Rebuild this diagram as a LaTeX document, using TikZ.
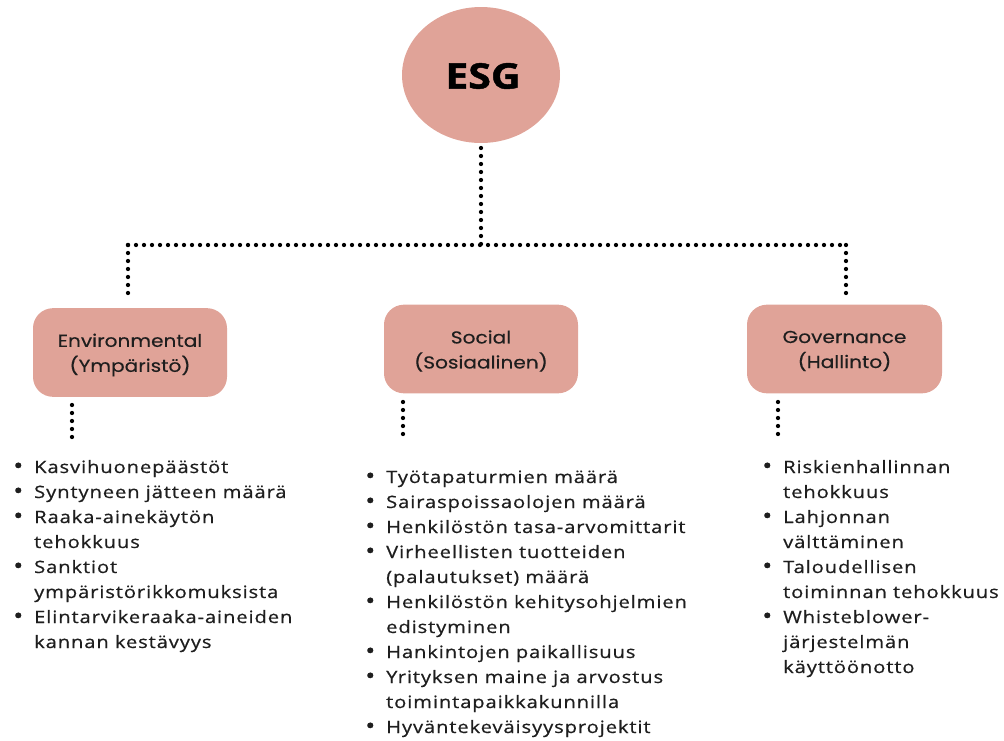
\documentclass[tikz,border=0pt]{standalone}
\usepackage{fontspec}
\usepackage{graphicx}
\usetikzlibrary{shapes.geometric}
\setmainfont{Open Sans}
\newfontfamily\listfont[LetterSpace=4.5,FakeBold=0.6]{Open Sans}
\newfontfamily\boxfont[FakeBold=0.3]{Poppins}
\newfontfamily\esgfont[FakeBold=1.2]{Open Sans Bold}
\definecolor{esgpink}{HTML}{E0A398}
\definecolor{txt}{HTML}{1E1E1E}
\newcommand{\hs}[1]{\scalebox{1.16}[1]{#1}}
\newcommand{\hl}[1]{\scalebox{1.18}[1]{#1}}
\newcommand{\bl}{\makebox[13.3pt][l]{\raisebox{-0.5pt}{\fontsize{17}{0}\selectfont•}}}
\newcommand{\nb}{\hspace*{13.3pt}}
\begin{document}
\begin{tikzpicture}[x=0.75pt,y=-0.75pt]
\useasboundingbox (0,0) rectangle (1004,740);
\tikzset{
  dotline/.style={line width=3.2pt, line cap=round, dash pattern=on 0pt off 6pt},
  catbox/.style={fill=esgpink, rounded corners=15pt, minimum width=145.5pt, minimum height=66.5pt, inner sep=0pt},
  cattext/.style={align=center, font=\boxfont\fontsize{13}{18.75}\selectfont, inner sep=0pt, text=txt},
  listnode/.style={anchor=base west, inner sep=0pt, text=txt, font=\listfont\fontsize{12.8}{18.75}\selectfont}
}
\node[ellipse, fill=esgpink, minimum width=118.5pt, minimum height=102pt, inner sep=0pt] (esg) at (481,75) {};
\node[font=\esgfont\fontsize{26.5}{30}\selectfont] (esgt) at (483,76) {\hs{ESG}};

\node[catbox] (env) at (130,352.5) {};
\node[catbox] (soc) at (481,349) {};
\node[catbox, minimum width=146.25pt] (gov) at (844.5,349) {};
\node[cattext] (envt) at (130,355) {\hs{Environmental}\\\hs{(Ympäristö)}};
\node[cattext] (soct) at (481,351) {\hs{Social}\\\hs{(Sosiaalinen)}};
\node[cattext] (govt) at (844.5,351) {\hs{Governance}\\\hs{(Hallinto)}};

\coordinate (hub) at (481,245);
\coordinate (lt) at (128,245);
\coordinate (rt) at (846,245);
\coordinate (ld) at (128,297);
\coordinate (rd) at (846,297);
\coordinate (esgb) at (481,148);
\draw[dotline] (esgb) -- (hub);
\draw[dotline] (lt) -- (rt);
\draw[dotline] (lt) -- (ld);
\draw[dotline] (rt) -- (rd);

\coordinate (e1) at (72,405); \coordinate (e2) at (72,443);
\coordinate (s1) at (403,402); \coordinate (s2) at (403,440);
\coordinate (g1) at (778,402); \coordinate (g2) at (778,440);
\draw[dotline] (e1) -- (e2);
\draw[dotline] (s1) -- (s2);
\draw[dotline] (g1) -- (g2);

\node[listnode] (envlist) at (13,473) {\hl{\begin{tabular}[t]{@{}l@{}}
\bl Kasvihuonepäästöt\\
\bl Syntyneen jätteen määrä\\
\bl Raaka-ainekäytön\\
\nb tehokkuus\\
\bl Sanktiot\\
\nb ympäristörikkomuksista\\
\bl Elintarvikeraaka-aineiden\\
\nb kannan kestävyys
\end{tabular}}};

\node[listnode] (soclist) at (365,483) {\hl{\begin{tabular}[t]{@{}l@{}}
\bl Työtapaturmien määrä\\
\bl Sairaspoissaolojen määrä\\
\bl Henkilöstön tasa-arvomittarit\\
\bl Virheellisten tuotteiden\\
\nb (palautukset) määrä\\
\bl Henkilöstön kehitysohjelmien\\
\nb edistyminen\\
\bl Hankintojen paikallisuus\\
\bl Yrityksen maine ja arvostus\\
\nb toimintapaikkakunnilla\\
\bl Hyväntekeväisyysprojektit
\end{tabular}}};

\node[listnode] (govlist) at (762,473) {\hl{\begin{tabular}[t]{@{}l@{}}
\bl Riskienhallinnan\\
\nb tehokkuus\\
\bl Lahjonnan\\
\nb välttäminen\\
\bl Taloudellisen\\
\nb toiminnan tehokkuus\\
\bl Whisteblower-\\
\nb järjestelmän\\
\nb käyttöönotto
\end{tabular}}};
\end{tikzpicture}
\end{document}
